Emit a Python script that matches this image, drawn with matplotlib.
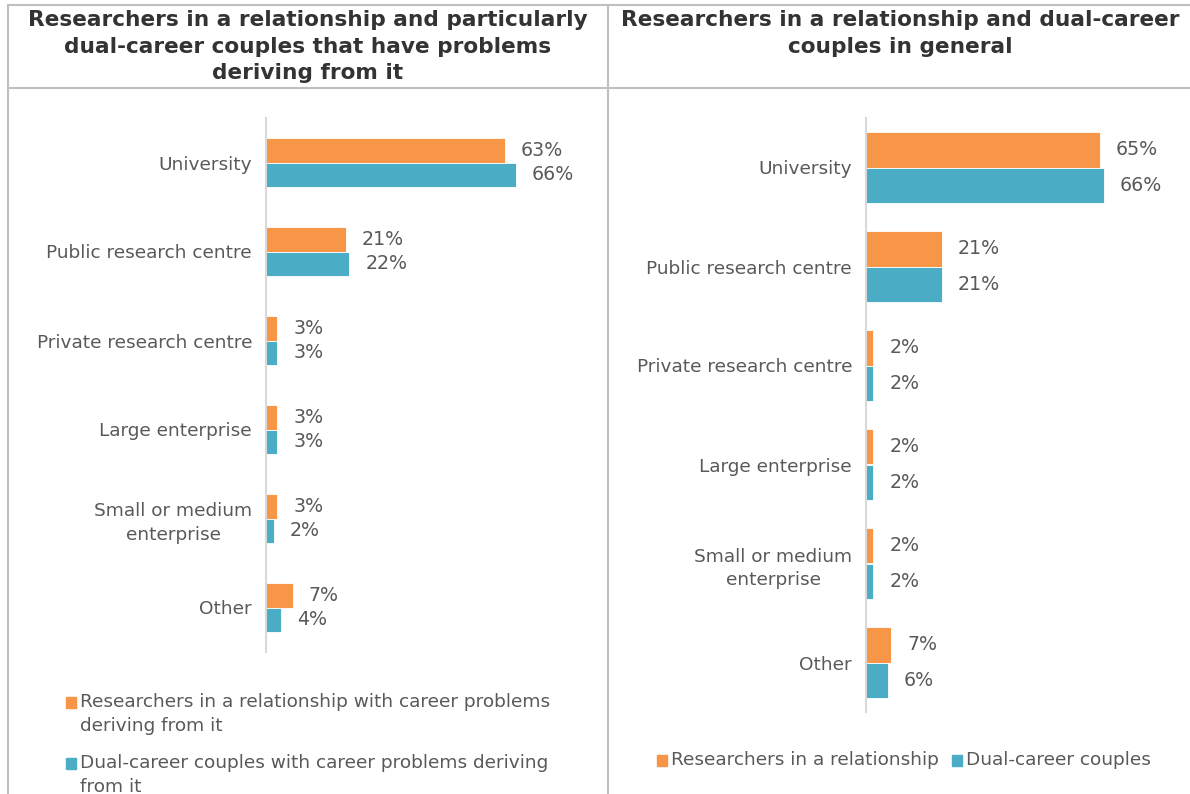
import matplotlib.pyplot as plt
from matplotlib.patches import Rectangle
from matplotlib.lines import Line2D
import numpy as np

# Office-style colours
orange = '#F79646'
blue = '#4BACC6'
textgrey = '#595959'
gridgrey = '#BFBFBF'

categories = ['University', 'Public research centre', 'Private research centre',
              'Large enterprise', 'Small or medium\nenterprise', 'Other']

# left panel: couples with career problems
left_relationship = [63, 21, 3, 3, 3, 7]
left_dualcareer = [66, 22, 3, 3, 2, 4]

# right panel: all couples
right_relationship = [65, 21, 2, 2, 2, 7]
right_dualcareer = [66, 21, 2, 2, 2, 6]

left_title = ('Researchers in a relationship and particularly\n'
              'dual-career couples that have problems\nderiving from it')
right_title = 'Researchers in a relationship and dual-career\ncouples in general'

left_legend = ['Researchers in a relationship with career problems\nderiving from it',
               'Dual-career couples with career problems deriving\nfrom it']
right_legend = ['Researchers in a relationship', 'Dual-career couples']

FS = 13.3
W, H = 1190, 794
fig = plt.figure(figsize=(W / 100, H / 100), dpi=100)


def px_axes(x0, y0, x1, y1):
    """axes from pixel box (top-left origin)"""
    return fig.add_axes([x0 / W, 1 - y1 / H, (x1 - x0) / W, (y1 - y0) / H])


def px(x, y):
    return x / W, 1 - y / H


def barpanel(ax, rel, dual, barh, xmax):
    y = np.arange(len(categories))
    ax.barh(y - barh / 2, rel, height=barh, color=orange, edgecolor='white', linewidth=0.6)
    ax.barh(y + barh / 2, dual, height=barh, color=blue, edgecolor='white', linewidth=0.6)
    for yy, v in zip(y, rel):
        ax.annotate(f'{v}%', (v, yy - barh / 2), xytext=(11.5, 0), textcoords='offset points',
                    va='center', ha='left', fontsize=FS + 0.4, color=textgrey)
    for yy, v in zip(y, dual):
        ax.annotate(f'{v}%', (v, yy + barh / 2), xytext=(11.5, 0), textcoords='offset points',
                    va='center', ha='left', fontsize=FS + 0.4, color=textgrey)
    ax.set_ylim(len(categories) - 0.5, -0.5)
    ax.set_xlim(0, xmax)
    ax.set_yticks(y)
    ax.set_yticklabels(categories, fontsize=FS, color=textgrey)
    ax.tick_params(axis='y', length=0, pad=10)
    for lbl in ax.get_yticklabels():
        lbl.set_multialignment('center')
        lbl.set_linespacing(1.4)
    ax.set_xticks([])
    for s in ['top', 'right', 'bottom']:
        ax.spines[s].set_visible(False)
    ax.spines['left'].set_color('#D9D9D9')
    ax.spines['left'].set_linewidth(1.5)


axl = px_axes(266, 118, 590, 652)
barpanel(axl, left_relationship, left_dualcareer, 0.28, 85.5)
axr = px_axes(866, 118, 1190, 712)
barpanel(axr, right_relationship, right_dualcareer, 0.36, 90)

# table frame
for xa, ya, xb, yb in [(8, 5, 1190, 5), (8, 88, 1190, 88),
                       (8, 5, 8, 794), (608, 5, 608, 794)]:
    fig.add_artist(Line2D([xa / W, xb / W], [1 - ya / H, 1 - yb / H],
                          color=gridgrey, linewidth=1.5))

# column headers
fig.text(*px(308, 10), left_title, ha='center', va='top', fontsize=15.6,
         fontweight='bold', color='#333333', linespacing=1.42)
fig.text(*px(900, 10), right_title, ha='center', va='top', fontsize=15.6,
         fontweight='bold', color='#333333', linespacing=1.42)


def legend_key(x, y, color, text):
    fig.add_artist(Rectangle(px(x, y + 6), 10 / W, 11 / H, color=color))
    fig.text(*px(x + 14, y - 9), text, ha='left', va='top', fontsize=FS,
             color=textgrey, linespacing=1.4)


legend_key(66, 702, orange, left_legend[0])
legend_key(66, 763, blue, left_legend[1])
legend_key(657, 760, orange, right_legend[0])
legend_key(952, 760, blue, right_legend[1])

fig.savefig('out.png', dpi=100, facecolor='white')
